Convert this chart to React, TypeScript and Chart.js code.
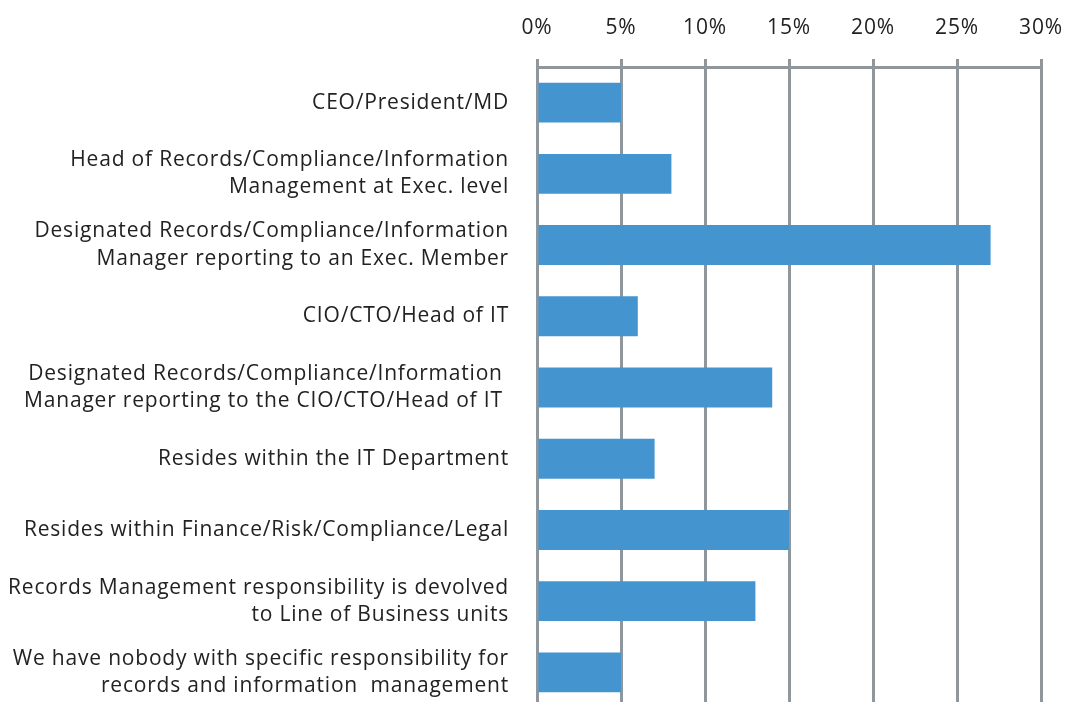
import React, { useEffect, useRef } from "react";
import { Chart, registerables } from "chart.js";

Chart.register(...registerables);

const categories: string[][] = [
  ["CEO/President/MD"],
  ["Head of Records/Compliance/Information", "Management at Exec. level"],
  ["Designated Records/Compliance/Information", "Manager reporting to an Exec. Member"],
  ["CIO/CTO/Head of IT"],
  ["Designated Records/Compliance/Information ", "Manager reporting to the CIO/CTO/Head of IT "],
  ["Resides within the IT Department"],
  ["Resides within Finance/Risk/Compliance/Legal"],
  ["Records Management responsibility is devolved", "to Line of Business units"],
  ["We have nobody with specific responsibility for", "records and information  management"],
];

const values: number[] = [5, 8, 27, 6, 14, 7, 15, 13, 5];

const xTicks: number[] = [0, 5, 10, 15, 20, 25, 30];

const FONT = "'Open Sans', Lato, sans-serif";
const GRID = "#8F979D";
const BAR = "#4495CF";
const TEXT = "#222222";

function wrapSpacing(scale: any, spacing: string) {
  if (scale.__wrapped) return;
  scale.__wrapped = true;
  const orig = scale.drawLabels;
  scale.drawLabels = function (area: any) {
    const ctx = this.ctx;
    ctx.save();
    try {
      (ctx as any).letterSpacing = spacing;
    } catch (e) {}
    orig.call(this, area);
    ctx.restore();
  };
}

export default function App() {
  const ref = useRef<HTMLCanvasElement | null>(null);

  useEffect(() => {
    document.body.style.margin = "0";
    document.body.style.overflow = "hidden";
    const canvas = ref.current;
    if (!canvas) return;
    const chart = new Chart(canvas, {
      type: "bar",
      data: {
        labels: categories,
        datasets: [
          {
            data: values,
            backgroundColor: BAR,
            borderWidth: 0,
            barPercentage: 0.56,
            categoryPercentage: 1,
          },
        ],
      },
      options: {
        indexAxis: "y",
        animation: false,
        responsive: false,
        maintainAspectRatio: false,
        layout: { padding: { left: 0, right: 25, top: 0, bottom: 0 } },
        plugins: {
          legend: { display: false },
          tooltip: { enabled: false },
          title: { display: false },
        },
        scales: {
          x: {
            position: "top",
            min: 0,
            max: 30,
            afterBuildTicks: (scale: any) => {
              scale.ticks = xTicks.map((v) => ({ value: v }));
            },
            afterFit: (scale: any) => {
              scale.height = 67;
              scale.paddingLeft = 0;
              scale.paddingRight = 0;
              wrapSpacing(scale, "0.8px");
            },
            ticks: {
              callback: (v: any) => v + "%",
              color: TEXT,
              font: { family: FONT, size: 21 },
              padding: 18,
              maxRotation: 0,
            },
            grid: {
              color: GRID,
              lineWidth: 3,
              drawTicks: true,
              tickLength: 8,
              tickWidth: 3,
              tickColor: GRID,
              drawOnChartArea: true,
            },
            border: { display: true, color: GRID, width: 3 },
          },
          y: {
            afterFit: (scale: any) => {
              scale.width = 537;
              scale.paddingTop = 0;
              scale.paddingBottom = 0;
              wrapSpacing(scale, "0.8px");
            },
            ticks: {
              color: TEXT,
              font: { family: FONT, size: 21, lineHeight: 1.3 },
              padding: 28,
              autoSkip: false,
            },
            grid: { display: false, drawTicks: false },
            border: { display: false },
          },
        },
      },
    });
    return () => chart.destroy();
  }, []);

  return (
    <div style={{ width: 1066, height: 702, overflow: "hidden", background: "#fff" }}>
      <canvas ref={ref} width={1066} height={708} style={{ display: "block", width: 1066, height: 708 }} />
    </div>
  );
}
